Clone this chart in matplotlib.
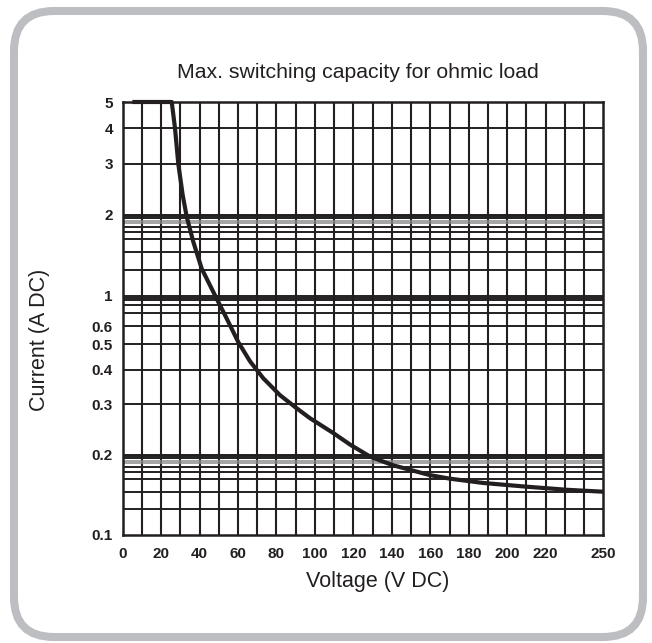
import numpy as np
import matplotlib
matplotlib.use('Agg')
import matplotlib.pyplot as plt
from matplotlib.patches import FancyBboxPatch

# curve: voltage (V DC) vs current (A DC)
voltage = [5, 25.5, 27.2, 28.9, 31.2, 33.3, 36.7, 41.1, 46.3, 49.7, 54.1, 60.1,
           66.2, 73.1, 81.8, 90.5, 97.4, 109.6, 118.4, 128.8, 140.6,
           159.8, 170, 187.4, 210, 230.8, 250]
current = [5, 5, 4.0, 3.0, 2.34, 1.97, 1.59, 1.26, 1.06, 0.90, 0.68, 0.51,
           0.43, 0.372, 0.323, 0.29, 0.268, 0.238, 0.217, 0.197, 0.183,
           0.168, 0.163, 0.157, 0.152, 0.148, 0.1455]

x_ticks = [0, 20, 40, 60, 80, 100, 120, 140, 160, 180, 200, 220, 250]
x_grid = list(range(10, 250, 10))

y_ticks = [0.1, 0.2, 0.3, 0.4, 0.5, 0.6, 1, 2, 3, 4, 5]
y_labels = ['0.1', '0.2', '0.3', '0.4', '0.5', '0.6', '1', '2', '3', '4', '5']
# the printed paper is not a clean log scale: height of each labelled line
y_tick_height = [0, 80, 131, 165.5, 191, 209, 239.5, 320, 371.5, 407, 433]

y_grid = [0.125, 0.145, 0.162, 0.173, 0.181, 0.195, 0.1975, 0.2, 0.3, 0.4, 0.5,
          0.6, 0.75, 0.85, 0.92, 0.955, 1, 1.25, 1.45, 1.62, 1.73, 1.81, 1.95,
          1.975, 2, 3, 4]
y_grid_light = [0.186, 0.190, 1.86, 1.90]

ink = '#231f20'
lv = np.log10(y_ticks)
hv = np.array(y_tick_height, float)


def fwd(v):
    x = np.log10(np.maximum(np.asarray(v, float), 1e-12))
    y = np.interp(x, lv, hv)
    s0 = (hv[1] - hv[0]) / (lv[1] - lv[0])
    s1 = (hv[-1] - hv[-2]) / (lv[-1] - lv[-2])
    y = np.where(x < lv[0], hv[0] + (x - lv[0]) * s0, y)
    y = np.where(x > lv[-1], hv[-1] + (x - lv[-1]) * s1, y)
    return y


def inv(y):
    y = np.asarray(y, float)
    x = np.interp(y, hv, lv)
    s0 = (lv[1] - lv[0]) / (hv[1] - hv[0])
    s1 = (lv[-1] - lv[-2]) / (hv[-1] - hv[-2])
    x = np.where(y < hv[0], lv[0] + (y - hv[0]) * s0, x)
    x = np.where(y > hv[-1], lv[-1] + (y - hv[-1]) * s1, x)
    return 10 ** x


plt.rcParams['font.family'] = ['Liberation Sans', 'DejaVu Sans']

fig = plt.figure(figsize=(6.52, 6.43), dpi=100)

# rounded grey frame
bg = fig.add_axes([0, 0, 1, 1])
bg.set_xlim(0, 652)
bg.set_ylim(643, 0)
bg.axis('off')
bg.add_patch(FancyBboxPatch((14, 11), 629, 626,
                            boxstyle='round,pad=0,rounding_size=40',
                            fc='white', ec='#bdbec1', lw=5.8))

ax = fig.add_axes([122.7 / 652, 108 / 643, 480.6 / 652, 433 / 643])
ax.set_yscale('function', functions=(fwd, inv))
ax.set_xlim(0, 250)
ax.set_ylim(0.1, 5)

for xv in x_grid:
    ax.axvline(xv, color=ink, lw=1.5, zorder=1)
for yv in y_grid:
    ax.axhline(yv, color=ink, lw=1.4, zorder=1)
for yv in y_grid_light:
    ax.axhline(yv, color='#8c8c8c', lw=1.1, zorder=1)

ax.plot(voltage, current, color=ink, lw=3, solid_capstyle='butt',
        solid_joinstyle='round', clip_on=False, zorder=3)

ax.set_xticks(x_ticks)
ax.set_xticklabels([str(t) for t in x_ticks])
ax.set_yticks(y_ticks)
ax.set_yticklabels(y_labels)
ax.minorticks_off()
ax.tick_params(axis='both', length=0, labelsize=11, labelcolor=ink)
ax.tick_params(axis='x', pad=8.5)
ax.tick_params(axis='y', pad=7)
for lab in ax.get_xticklabels() + ax.get_yticklabels():
    lab.set_fontweight('bold')
for sp in ax.spines.values():
    sp.set_color(ink)
    sp.set_linewidth(1.8)

fig.text(358 / 652, 1 - 72 / 643, 'Max. switching capacity for ohmic load',
         ha='center', va='center', fontsize=15.3, color=ink)
fig.text(378 / 652, 1 - 582 / 643, 'Voltage (V DC)',
         ha='center', va='center', fontsize=15.5, color=ink)
fig.text(40 / 652, 1 - 340 / 643, 'Current (A DC)', rotation=90,
         ha='center', va='center', fontsize=15.5, color=ink)

fig.savefig('out.png', dpi=100)
